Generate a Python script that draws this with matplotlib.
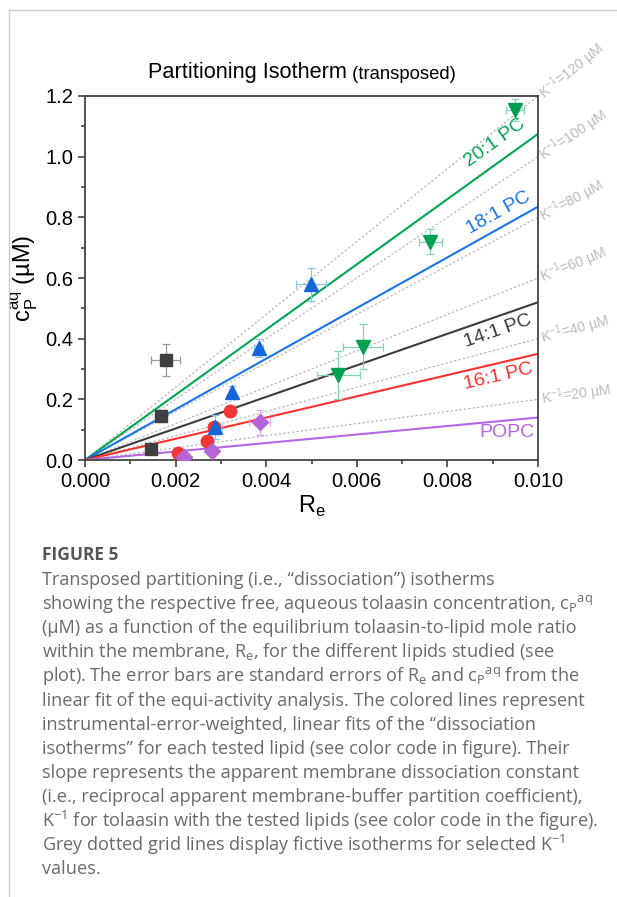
import numpy as np
import matplotlib
matplotlib.use("Agg")
import matplotlib.pyplot as plt
from matplotlib.lines import Line2D

plt.rcParams['font.family'] = ['Liberation Sans', 'DejaVu Sans']

# measured data (R_e, c_P^aq) with standard errors
re_14 = [0.00145, 0.00167, 0.00178]
cp_14 = [0.037, 0.145, 0.33]
xe_14 = [0.00005, 0.00006, 0.00032]
ye_14 = [0.005, 0.02, 0.054]

re_16 = [0.00205, 0.00269, 0.00285, 0.00319]
cp_16 = [0.022, 0.064, 0.11, 0.162]
xe_16 = [0.00003, 0.00003, 0.00003, 0.00003]
ye_16 = [0.004, 0.004, 0.006, 0.006]

re_18 = [0.00288, 0.00325, 0.00384, 0.00498]
cp_18 = [0.108, 0.223, 0.369, 0.579]
xe_18 = [0.00015, 0.00005, 0.0001, 0.00033]
ye_18 = [0.04, 0.02, 0.03, 0.055]

re_20 = [0.00559, 0.00614, 0.00762, 0.00949]
cp_20 = [0.28, 0.374, 0.72, 1.154]
xe_20 = [0.00047, 0.00044, 0.00025, 0.00019]
ye_20 = [0.079, 0.073, 0.04, 0.036]

re_popc = [0.00219, 0.0028, 0.00386]
cp_popc = [0.011, 0.031, 0.124]
xe_popc = [0.0001, 0.0001, 0.00023]
ye_popc = [0.005, 0.01, 0.04]

# fitted slopes K^-1 (uM)
fit_names = ['20:1 PC', '18:1 PC', '14:1 PC', '16:1 PC', 'POPC']
fit_slopes = [107.5, 83.5, 52, 35, 14]
fit_colors = ['#00a650', '#1a73e8', '#3c3c3c', '#ff3030', '#b565e6']
label_pos = [(0.00905, 1.045), (0.00912, 0.815), (0.00912, 0.425), (0.00912, 0.275), (0.00932, 0.09)]

# fictive isotherms
k_grid = [20, 40, 60, 80, 100, 120]

fig = plt.figure(figsize=(6.17, 8.97), dpi=100)
ax = fig.add_axes([85/617, 1-460/897, 453/617, 364/897])
ax.set_xlim(0, 0.010)
ax.set_ylim(0, 1.2)

def screen_angle(slope):
    p0 = ax.transData.transform((0, 0))
    p1 = ax.transData.transform((0.01, 0.01*slope))
    return np.degrees(np.arctan2(p1[1]-p0[1], p1[0]-p0[0]))

xx = np.array([0, 0.010])
for k in k_grid:
    ax.plot(xx, k*xx, ls=(0, (2, 2)), color='#b0b0b0', lw=0.8, zorder=1)
    ax.text(0.01007, k*0.010, r'K$^\mathregular{-1}$=%d µM' % k, color='#bdbdbd',
            fontsize=10.3, rotation=screen_angle(k), rotation_mode='anchor',
            ha='left', va='center', clip_on=False)

for name, s, c, (lx, ly) in zip(fit_names, fit_slopes, fit_colors, label_pos):
    ax.plot(xx, s*xx, color=c, lw=1.5, zorder=2)
    rot = 0 if name == 'POPC' else screen_angle(s)
    ax.text(lx, ly, name, color=c, fontsize=14, rotation=rot,
            rotation_mode='anchor', ha='center', va='center')

ekw = dict(ls='none', capsize=3, elinewidth=0.9, capthick=0.9, zorder=3)
ax.errorbar(re_14, cp_14, xerr=xe_14, yerr=ye_14, marker='s', ms=8,
            color='#404040', ecolor='#9a9a9a', **ekw)
ax.errorbar(re_16, cp_16, xerr=xe_16, yerr=ye_16, marker='o', ms=9,
            color='#f03535', ecolor='#f59a9a', **ekw)
ax.errorbar(re_18, cp_18, xerr=xe_18, yerr=ye_18, marker='^', ms=10,
            color='#1266d8', ecolor='#8ec0f0', **ekw)
ax.errorbar(re_20, cp_20, xerr=xe_20, yerr=ye_20, marker='v', ms=10,
            color='#00a050', ecolor='#80d4b0', **ekw)
ax.errorbar(re_popc, cp_popc, xerr=xe_popc, yerr=ye_popc, marker='D', ms=8,
            color='#b565d8', ecolor='#d9aaf0', **ekw)

ax.set_xticks([0, 0.002, 0.004, 0.006, 0.008, 0.010])
ax.set_xticklabels(['0.000', '0.002', '0.004', '0.006', '0.008', '0.010'])
ax.set_xticks(np.arange(0.001, 0.010, 0.002), minor=True)
ax.set_yticks([0, 0.2, 0.4, 0.6, 0.8, 1.0, 1.2])
ax.set_yticklabels(['0.0', '0.2', '0.4', '0.6', '0.8', '1.0', '1.2'])
ax.set_yticks(np.arange(0.1, 1.2, 0.2), minor=True)
ax.tick_params(which='both', direction='out', width=1.1, color='#333333', labelsize=14.5)
ax.tick_params(which='major', length=5)
ax.tick_params(which='minor', length=3)
for sp in ax.spines.values():
    sp.set_linewidth(1.3)
    sp.set_color('#444444')

ax.set_xlabel(r'R$_\mathregular{e}$', fontsize=17, labelpad=2)
ax.set_ylabel(r'$\mathregular{c_P^{aq}}$ (µM)', fontsize=17, labelpad=4)

t1 = fig.text(148/617, 1-78/897, 'Partitioning Isotherm', fontsize=15.7, va='baseline')
ax.annotate(' (transposed)', xy=(1, 0), xycoords=t1, va='bottom', fontsize=13.3)

# page frame
fig.add_artist(Line2D([9/617, 1], [1-10/897, 1-10/897], color='#cccccc', lw=1))
fig.add_artist(Line2D([9/617, 9/617], [0, 1-10/897], color='#cccccc', lw=1))

# caption
cap = dict(family=['Open Sans', 'DejaVu Sans'], color='#6a6a6a', fontsize=13.1)
fig.text(42/617, 1-555/897, 'FIGURE 5', family=['Open Sans', 'DejaVu Sans'],
         weight='bold', color='#555555', fontsize=12.5, va='center')
kinv = '$\\mathregular{K^{\u22121}}$'
cpaq = '$\\mathregular{c_P{}^{aq}}$'
rel = '$\\mathregular{R_e}$'
lines = [
    'Transposed partitioning (i.e., \u201cdissociation\u201d) isotherms',
    'showing the respective free, aqueous tolaasin concentration, ' + cpaq,
    '(µM) as a function of the equilibrium tolaasin-to-lipid mole ratio',
    'within the membrane, ' + rel + ', for the different lipids studied (see',
    'plot). The error bars are standard errors of ' + rel + ' and ' + cpaq + ' from the',
    'linear fit of the equi-activity analysis. The colored lines represent',
    'instrumental-error-weighted, linear fits of the \u201cdissociation',
    'isotherms\u201d for each tested lipid (see color code in figure). Their',
    'slope represents the apparent membrane dissociation constant',
    '(i.e., reciprocal apparent membrane-buffer partition coefficient),',
    kinv + ' for tolaasin with the tested lipids (see color code in the figure).',
    'Grey dotted grid lines display fictive isotherms for selected ' + kinv,
    'values.',
]
for i, s in enumerate(lines):
    fig.text(42/617, 1-(580 + 24.1*i)/897, s, va='center', **cap)

fig.savefig('out.png', dpi=100)
